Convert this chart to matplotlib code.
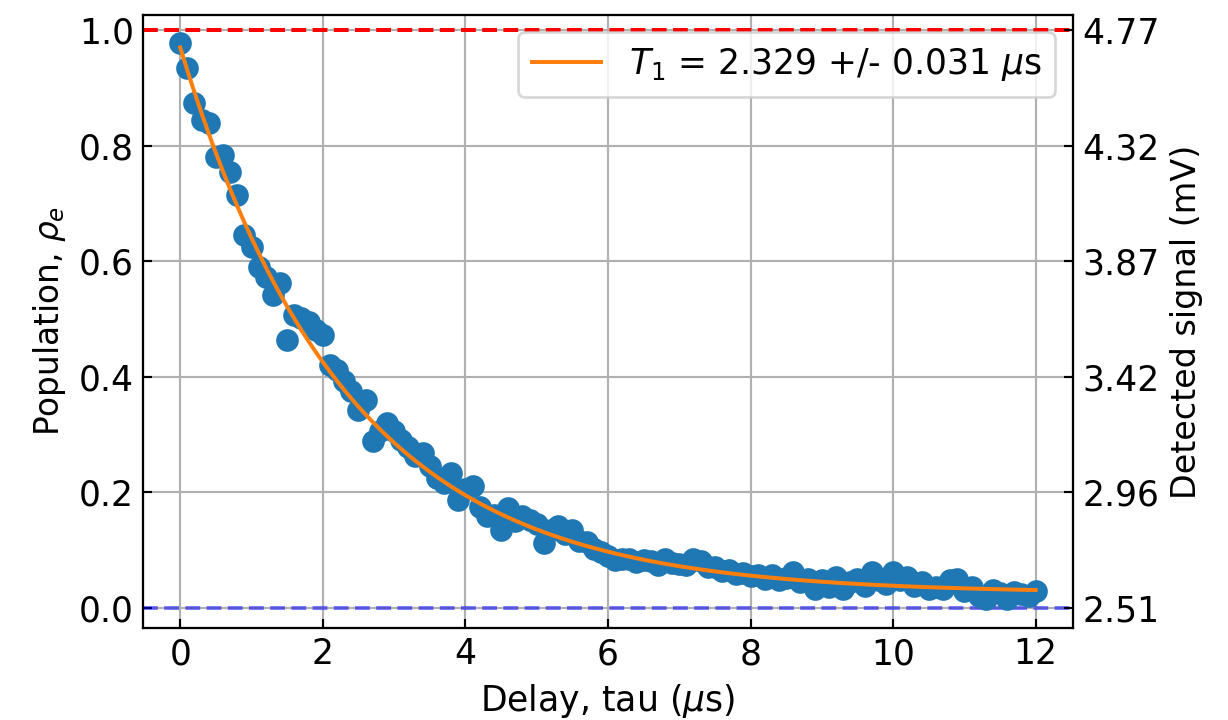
"""T1 relaxation measurement: population vs delay with exponential fit."""

import matplotlib

matplotlib.use("Agg")
import matplotlib.pyplot as plt
import numpy as np

# delay times (us), one shot every 0.1 us
delay_us = [round(0.1 * i, 1) for i in range(121)]

# excited-state population
population = [
    0.977, 0.934, 0.873, 0.845, 0.839, 0.781, 0.784, 0.755, 0.715, 0.645,
    0.625, 0.590, 0.573, 0.542, 0.562, 0.464, 0.507, 0.501, 0.495, 0.481,
    0.472, 0.420, 0.412, 0.392, 0.375, 0.343, 0.360, 0.288, 0.305, 0.320,
    0.305, 0.290, 0.279, 0.262, 0.268, 0.245, 0.225, 0.216, 0.233, 0.187,
    0.205, 0.210, 0.175, 0.158, 0.160, 0.135, 0.172, 0.150, 0.158, 0.152,
    0.145, 0.112, 0.135, 0.141, 0.128, 0.135, 0.115, 0.113, 0.102, 0.096,
    0.090, 0.082, 0.084, 0.084, 0.079, 0.082, 0.080, 0.073, 0.084, 0.078,
    0.076, 0.074, 0.084, 0.080, 0.070, 0.070, 0.064, 0.066, 0.058, 0.060,
    0.055, 0.056, 0.050, 0.056, 0.047, 0.052, 0.062, 0.044, 0.050, 0.032,
    0.047, 0.035, 0.053, 0.032, 0.045, 0.050, 0.038, 0.062, 0.047, 0.041,
    0.062, 0.047, 0.053, 0.038, 0.044, 0.032, 0.035, 0.033, 0.047, 0.050,
    0.029, 0.036, 0.021, 0.015, 0.030, 0.026, 0.015, 0.027, 0.024, 0.021,
    0.029,
]

# fit parameters: p(t) = amp * exp(-t / T1) + offset
T1 = 2.329
T1_ERR = 0.031
FIT_AMP = 0.945
FIT_OFFSET = 0.025

# right axis: detected signal at each population tick
pop_ticks = [0.0, 0.2, 0.4, 0.6, 0.8, 1.0]
signal_labels = ["2.51", "2.96", "3.42", "3.87", "4.32", "4.77"]

plt.rcParams["font.size"] = 13

t = np.array(delay_us)
fit = FIT_AMP * np.exp(-t / T1) + FIT_OFFSET

fig, ax = plt.subplots(figsize=(6.4, 3.75), dpi=192)
fig.subplots_adjust(left=0.1165, right=0.873, bottom=0.128, top=0.979)

ax.plot(t, population, "o", ms=7.5, color="tab:blue", zorder=3)
ax.plot(t, fit, color="tab:orange", lw=1.5, zorder=4,
        label=f"$T_1$ = {T1:.3f} +/- {T1_ERR:.3f} $\\mu$s")
ax.axhline(1.0, color="r", ls="--", zorder=2)
ax.axhline(0.0, color="b", ls="--", alpha=0.5, zorder=2)

ax.set_xlim(-0.52, 12.52)
ax.set_ylim(-0.035, 1.026)
ax.set_xticks(range(0, 13, 2))
ax.set_yticks(pop_ticks)
ax.grid(True)
ax.tick_params(direction="in")
ax.set_xlabel("Delay, tau ($\\mu$s)")
ax.set_ylabel("Population, $\\rho_e$", fontsize=12.3)
ax.legend(loc="upper right")

ax2 = ax.twinx()
ax2.set_ylim(ax.get_ylim())
ax2.set_yticks(pop_ticks)
ax2.set_yticklabels(signal_labels)
ax2.tick_params(direction="in")
ax2.set_ylabel("Detected signal (mV)", fontsize=12.5)

fig.savefig("out.png", dpi=192)
